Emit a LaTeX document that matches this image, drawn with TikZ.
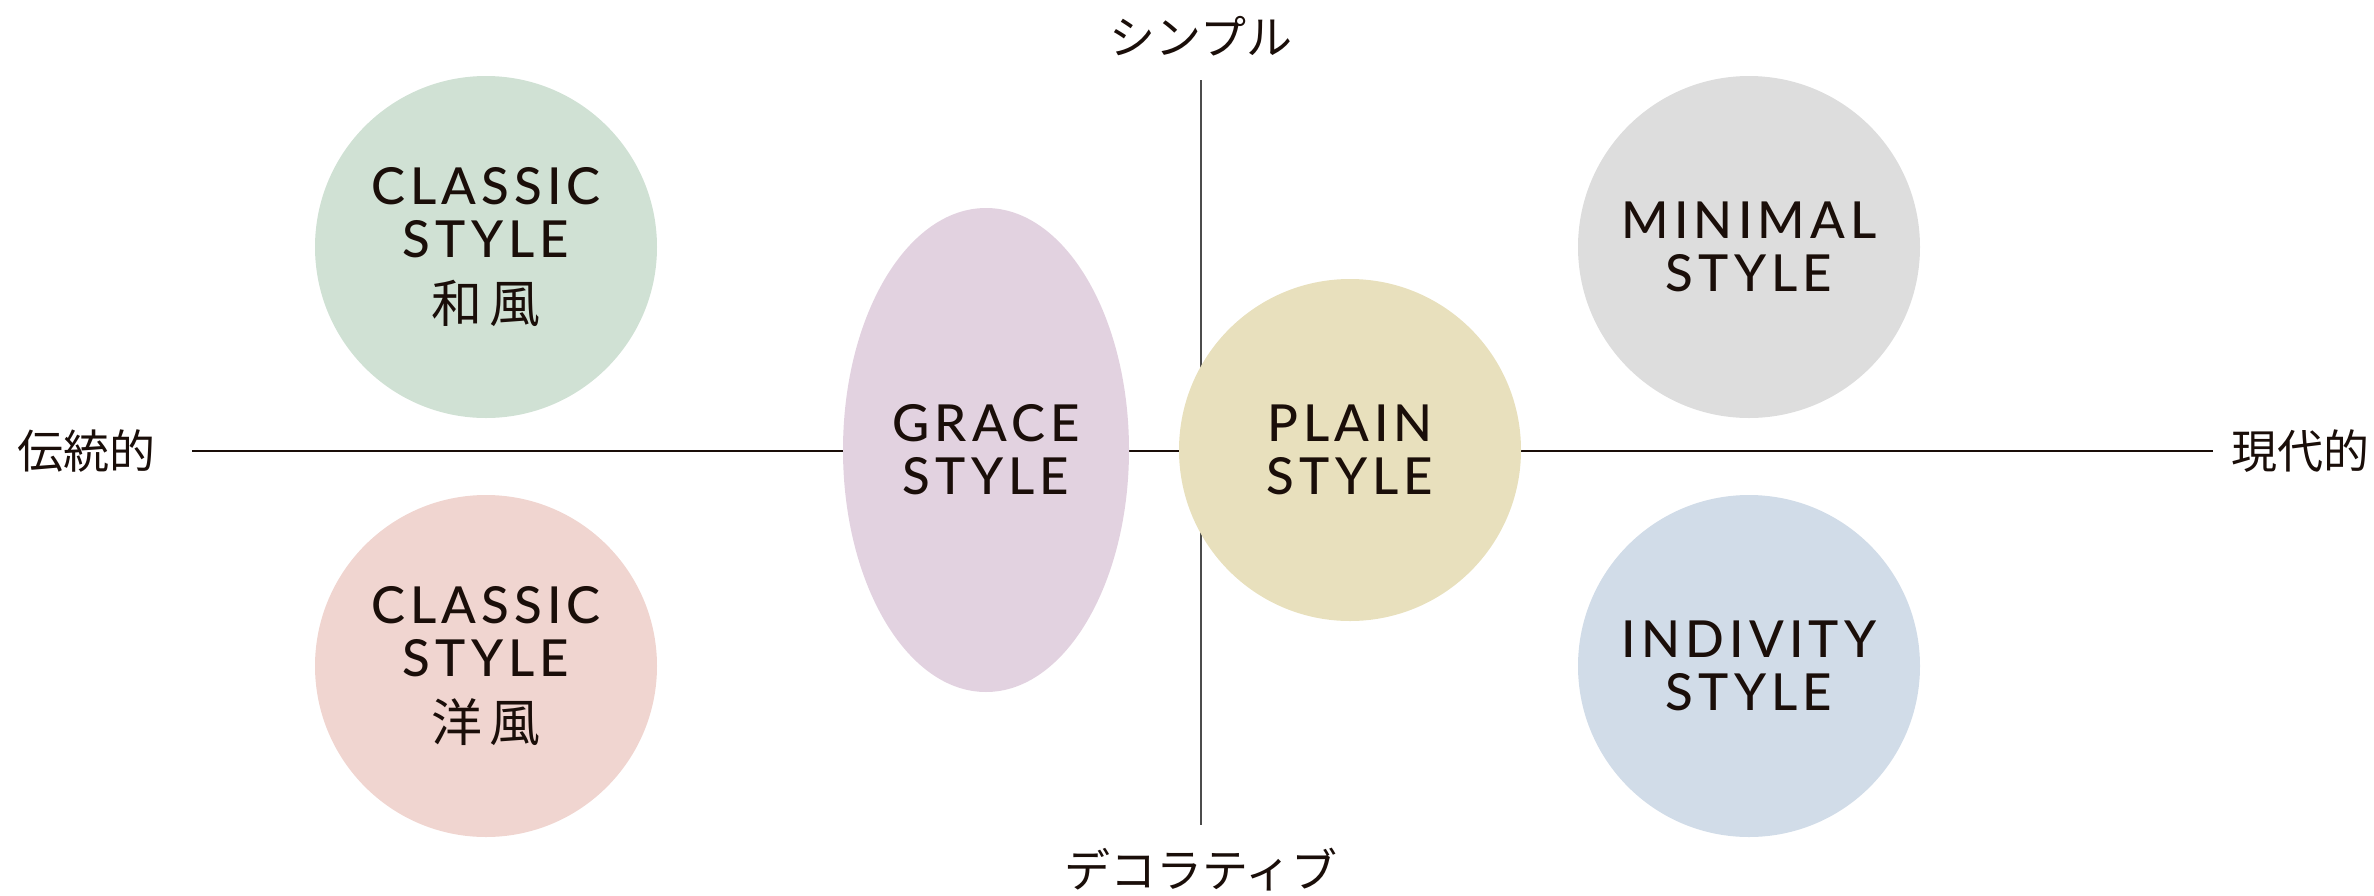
\documentclass[tikz,border=0pt]{standalone}
\usepackage{fontspec}
\usetikzlibrary{shapes}
\newfontfamily\jpfont{Noto Sans CJK JP}
\newfontfamily\jpwide[LetterSpace=12]{Noto Sans CJK JP}
\newfontfamily\capfont[LetterSpace=10]{Lato Medium}
\definecolor{ink}{RGB}{26,14,9}
\definecolor{wafu}{RGB}{208,225,212}
\definecolor{yofu}{RGB}{240,213,208}
\definecolor{grace}{RGB}{226,210,224}
\definecolor{plain}{RGB}{232,224,189}
\definecolor{minimal}{RGB}{221,221,221}
\definecolor{indivity}{RGB}{209,220,232}

\begin{document}
\begin{tikzpicture}[x=0.5pt, y=-0.5pt,
  bubble/.style={circle, minimum size=171pt, inner sep=0pt, align=center, text=ink,
    font=\capfont\fontsize{25.5}{26.5}\selectfont},
  oval/.style={ellipse, minimum width=143pt, minimum height=242pt, inner sep=0pt,
    align=center, text=ink, font=\capfont\fontsize{25.5}{26.5}\selectfont},
  axislabel/.style={inner sep=0pt, text=ink, font=\jpfont\fontsize{23}{25}\selectfont}]

\useasboundingbox (0,0) rectangle (2374,895);

% axes
\coordinate (W) at (192, 451);
\coordinate (E) at (2213, 451);
\coordinate (N) at (1201, 80);
\coordinate (D) at (1201, 825);
\draw [line width=1pt, ink] (W) -- (E);
\draw [line width=0.9pt, black!70] (N) -- (D);

\node [axislabel] at (87, 451) (Trad) {伝統的};
\node [axislabel] at (2300, 451) (Mod) {現代的};
\node [axislabel] at (1201, 36) (Simp) {シンプル};
\node [axislabel] at (1201, 870) (Deco) {デコラティブ};

% styles
\node [bubble, fill=wafu] at (486, 247) (CW) {CLASSIC\\STYLE\\[6pt]{\jpwide 和風}};
\node [bubble, fill=yofu] at (486, 666) (CY) {CLASSIC\\STYLE\\[6pt]{\jpwide 洋風}};
\node [oval, fill=grace] at (986, 450) (G) {GRACE\\STYLE};
\node [bubble, fill=plain] at (1350, 450) (P) {PLAIN\\STYLE};
\node [bubble, fill=minimal] at (1749, 247) (M) {MINIMAL\\STYLE};
\node [bubble, fill=indivity] at (1749, 666) (I) {INDIVITY\\STYLE};
\end{tikzpicture}
\end{document}
